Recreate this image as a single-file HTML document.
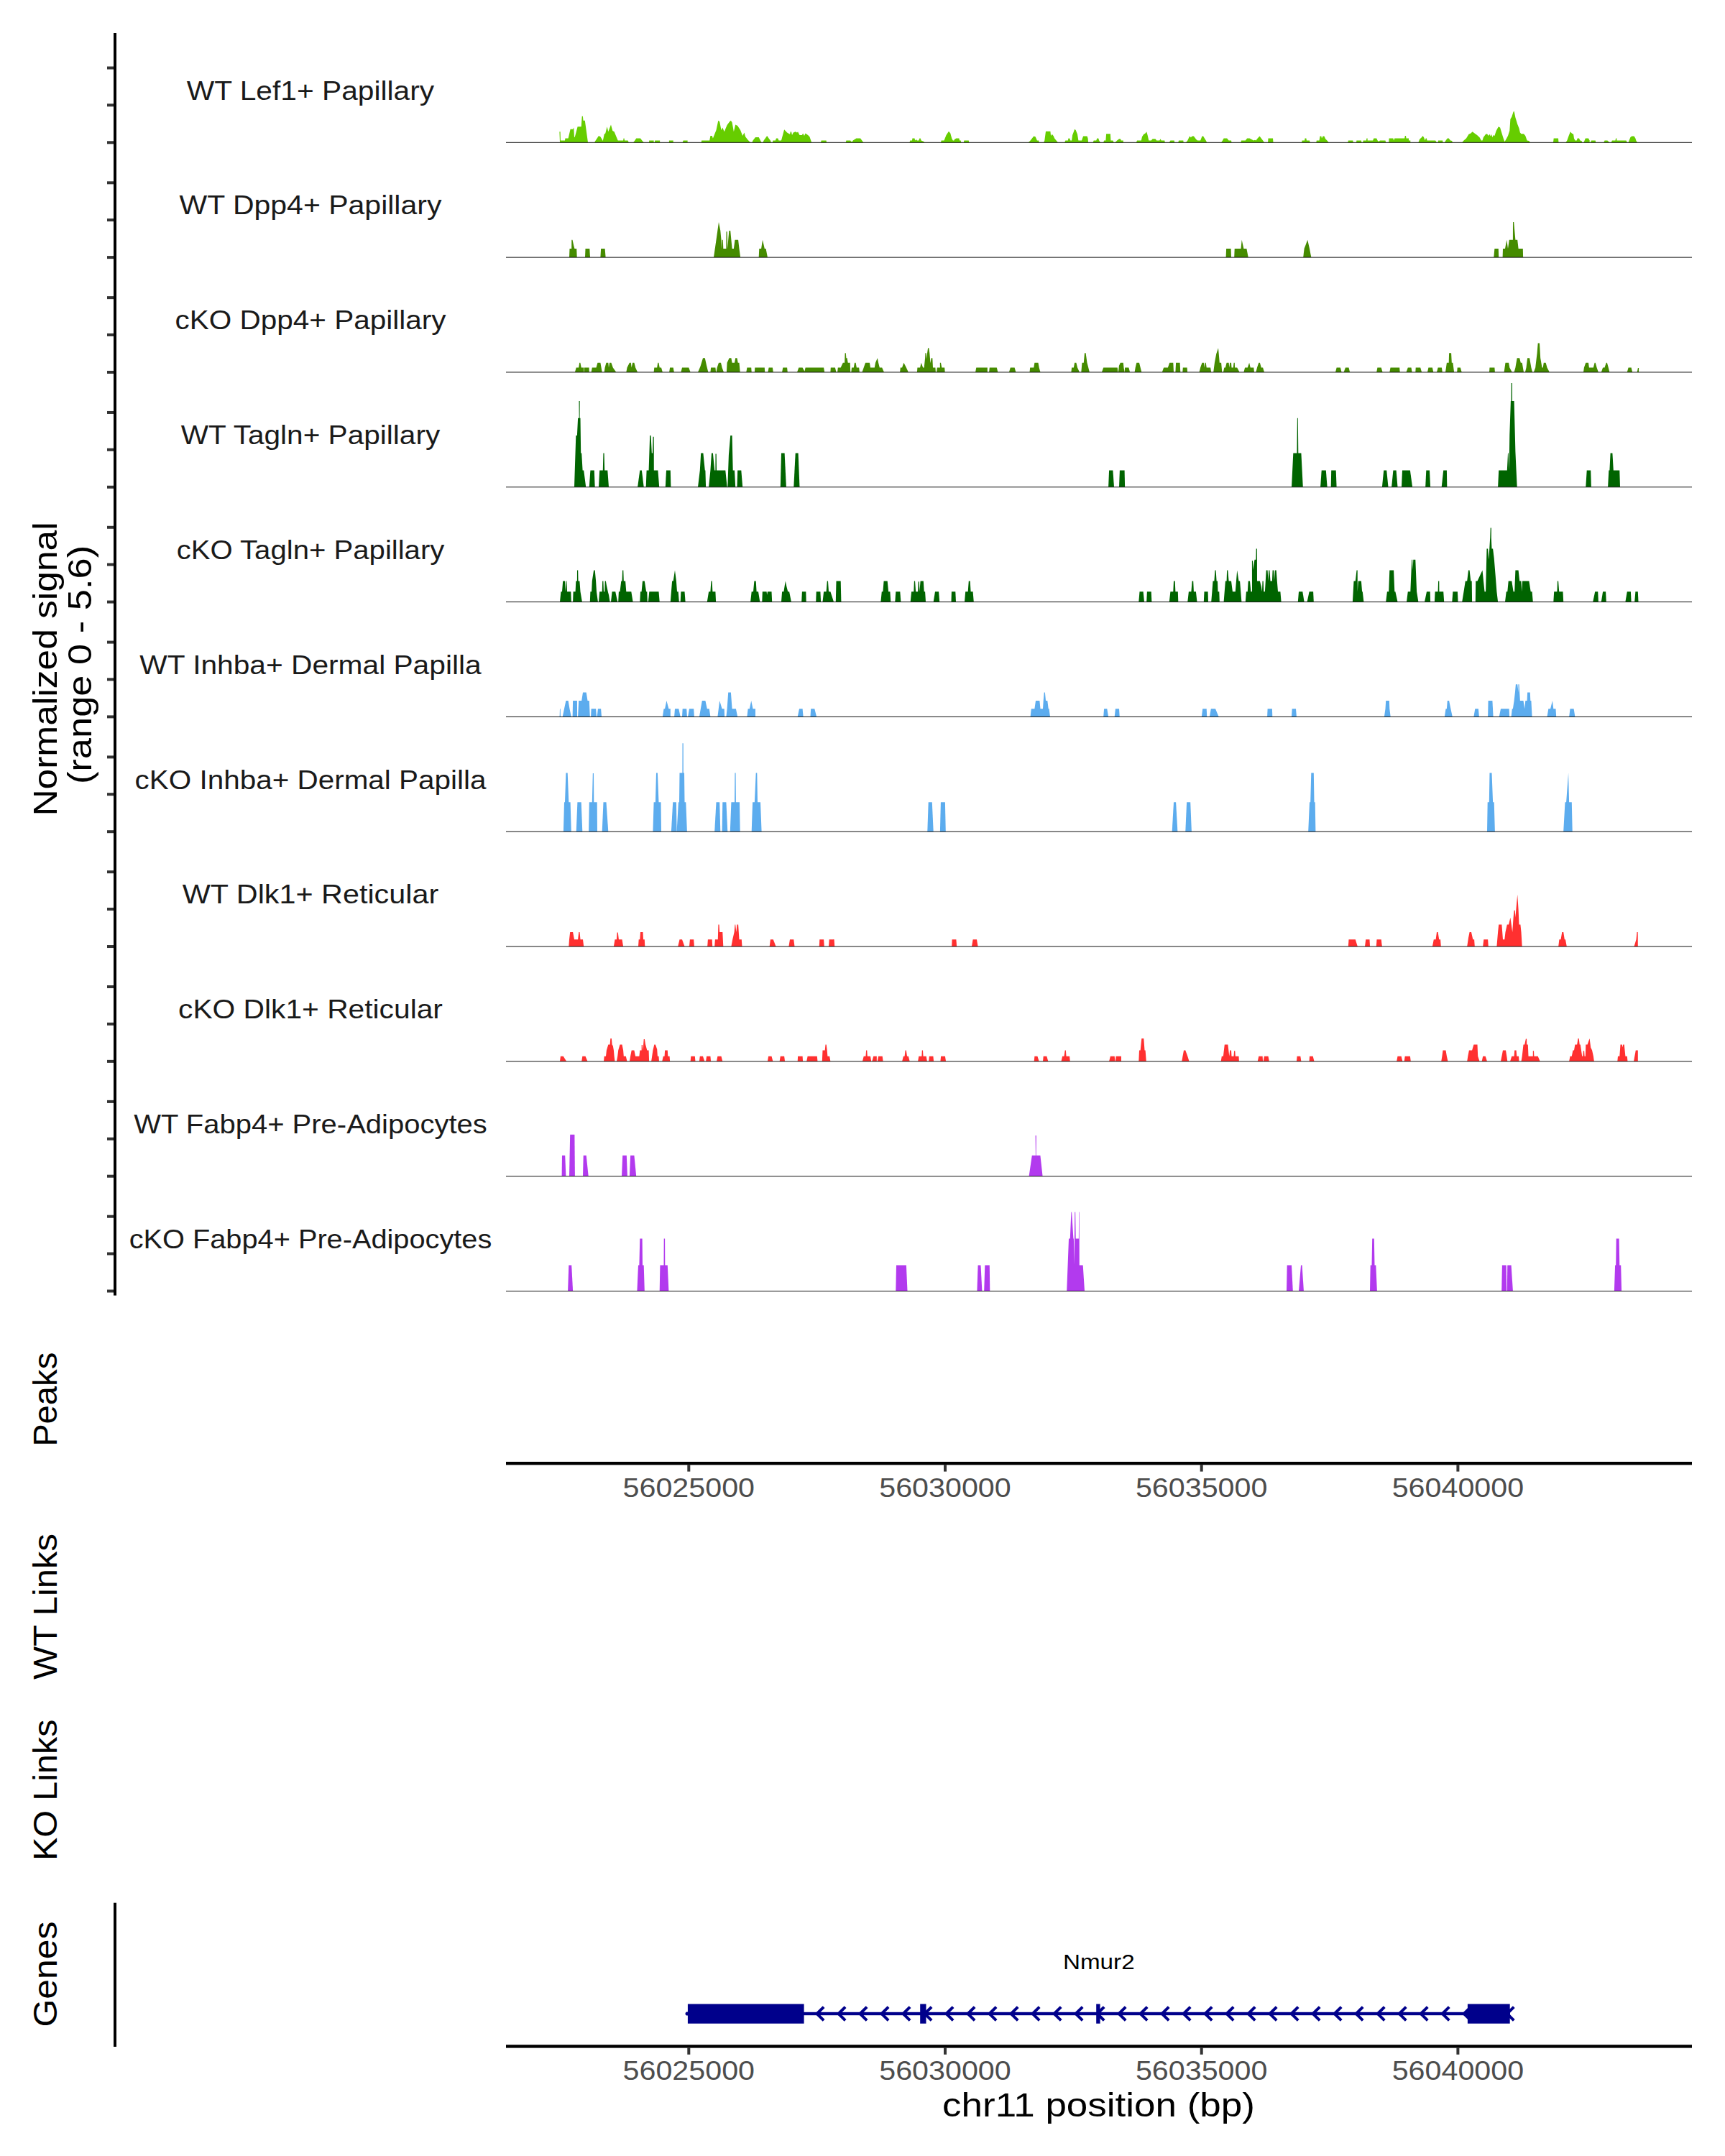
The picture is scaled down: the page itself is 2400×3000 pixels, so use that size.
<!DOCTYPE html><html><head><meta charset="utf-8"><style>html,body{margin:0;padding:0;background:#fff;}svg{display:block;}</style></head><body><svg width="2400" height="3000" viewBox="0 0 2400 3000">
<rect width="2400" height="3000" fill="#fff"/>
<polygon points="779.0,198.3 778.4,183.2 779.6,183.2 779.9,195.5 786.0,195.5 786.4,192.5 790.6,192.5 793.6,179.7 797.1,179.7 798.3,177.4 799.0,191.3 799.9,190.2 803.6,176.3 808.7,176.3 809.7,161.7 810.9,161.7 811.5,167.7 813.8,167.7 818.0,198.3" fill="#66CD00"/>
<polygon points="827.2,198.3 827.7,197.1 833.0,189.0 835.4,190.2 838.8,196.0 840.7,186.7 842.3,185.5 844.6,176.3 846.3,183.2 850.0,173.5 852.3,182.1 854.6,183.2 859.7,195.5 867.1,195.5 867.6,192.5 868.5,192.5 869.0,195.5 873.6,195.5 874.8,198.3" fill="#66CD00"/>
<polygon points="881.0,198.3 882.9,196.0 885.2,192.5 891.0,192.5 893.3,195.5 895.7,198.3" fill="#66CD00"/>
<polygon points="903.1,198.3 903.1,195.5 909.6,195.5 909.6,198.3" fill="#66CD00"/>
<polygon points="910.7,198.3 911.2,195.5 918.1,195.5 918.1,198.3" fill="#66CD00"/>
<polygon points="930.9,198.3 930.9,195.5 936.7,195.5 936.7,198.3" fill="#66CD00"/>
<polygon points="949.7,198.3 950.6,195.5 956.6,195.5 956.6,198.3" fill="#66CD00"/>
<polygon points="975.7,198.3 976.1,195.5 987.2,195.5 988.4,189.0 990.7,189.0 991.9,192.5 996.5,180.9 999.3,167.7 1001.2,169.3 1003.5,180.9 1005.3,177.4 1007.7,183.2 1011.6,174.0 1015.1,169.3 1016.9,167.7 1018.6,170.5 1020.9,183.2 1023.2,173.5 1026.2,175.1 1030.1,180.9 1033.2,189.0 1035.5,184.4 1037.1,190.2 1040.6,194.8 1044.1,198.3" fill="#66CD00"/>
<polygon points="1046.4,198.3 1047.5,195.5 1051.0,190.9 1055.7,190.9 1058.0,195.5 1059.6,198.3" fill="#66CD00"/>
<polygon points="1061.4,198.3 1062.6,195.5 1067.2,189.0 1069.6,192.5 1071.9,195.5 1073.0,198.3" fill="#66CD00"/>
<polygon points="1074.9,198.3 1075.4,195.5 1078.8,195.5 1080.0,192.5 1082.3,192.5 1083.5,195.5 1087.0,195.5 1091.1,180.2 1095.1,184.4 1099.0,186.7 1099.8,183.2 1101.0,183.2 1102.0,187.9 1103.7,184.4 1106.7,183.2 1109.0,184.4 1110.1,183.2 1112.5,187.9 1115.9,187.9 1117.1,185.5 1119.0,189.0 1120.6,185.5 1124.1,187.9 1126.4,190.2 1129.2,198.3" fill="#66CD00"/>
<polygon points="1142.1,198.3 1142.6,195.5 1149.6,195.5 1150.0,198.3" fill="#66CD00"/>
<polygon points="1176.7,198.3 1177.4,195.5 1183.2,195.5 1184.3,197.1 1186.0,197.1 1186.7,195.5 1191.3,192.5 1197.1,192.5 1201.3,198.3" fill="#66CD00"/>
<polygon points="1265.5,198.3 1266.2,195.5 1269.0,195.5 1269.4,192.5 1272.5,192.5 1273.2,195.5 1274.8,194.1 1275.9,195.5 1278.3,195.5 1279.4,192.5 1280.6,192.5 1281.7,195.5 1285.2,197.1 1286.4,198.3" fill="#66CD00"/>
<polygon points="1309.1,198.3 1309.6,195.5 1313.5,195.5 1316.5,187.9 1320.0,182.8 1322.3,185.5 1324.2,192.5 1325.8,195.5 1327.4,195.5 1328.1,193.7 1330.4,192.5 1334.4,192.5 1335.1,195.5 1336.7,195.5 1337.4,198.3" fill="#66CD00"/>
<polygon points="1340.9,198.3 1341.3,195.5 1347.8,195.5 1348.3,198.3" fill="#66CD00"/>
<polygon points="1430.8,198.3 1433.6,195.5 1438.3,189.5 1440.6,190.2 1442.9,195.5 1445.2,195.5 1445.7,198.3" fill="#66CD00"/>
<polygon points="1452.2,198.3 1453.3,195.5 1455.0,182.8 1461.4,182.8 1462.1,189.0 1463.8,186.7 1465.6,189.0 1467.2,192.5 1469.6,195.5 1471.9,198.3" fill="#66CD00"/>
<polygon points="1481.2,198.3 1482.3,195.5 1485.8,195.5 1486.5,192.5 1488.1,192.5 1489.3,195.5 1491.1,195.5 1492.1,187.9 1493.9,183.2 1495.1,179.7 1496.7,180.9 1499.0,186.7 1500.4,195.5 1505.0,195.5 1506.0,192.5 1507.1,189.5 1512.5,189.5 1513.6,192.5 1514.1,198.3" fill="#66CD00"/>
<polygon points="1520.6,198.3 1521.7,195.5 1525.2,195.5 1526.4,192.5 1528.2,192.5 1529.2,195.5 1531.0,198.3" fill="#66CD00"/>
<polygon points="1535.2,198.3 1536.1,195.5 1538.4,195.5 1539.1,186.2 1544.9,186.2 1545.4,195.5 1548.4,195.5 1549.6,198.3" fill="#66CD00"/>
<polygon points="1551.4,198.3 1554.2,195.5 1557.0,193.2 1558.8,193.2 1560.0,195.5 1560.0,198.3" fill="#66CD00"/>
<polygon points="1560.0,198.3 1560.0,195.5 1562.8,195.5 1562.8,198.3" fill="#66CD00"/>
<polygon points="1580.9,198.3 1582.0,195.5 1587.8,195.5 1589.0,190.2 1591.3,186.7 1593.6,185.5 1595.2,183.2 1596.6,187.9 1598.3,195.5 1601.7,195.5 1603.6,193.2 1607.5,193.2 1609.2,195.5 1613.3,195.5 1614.5,193.2 1615.7,195.5 1620.3,195.5 1620.8,198.3" fill="#66CD00"/>
<polygon points="1626.8,198.3 1628.4,195.5 1633.7,195.5 1634.2,198.3" fill="#66CD00"/>
<polygon points="1639.3,198.3 1640.0,195.5 1646.3,195.5 1646.7,198.3" fill="#66CD00"/>
<polygon points="1650.0,198.3 1652.3,195.5 1655.1,189.5 1656.9,191.3 1658.6,189.5 1660.9,189.5 1664.3,194.1 1666.2,195.5 1670.1,195.5 1672.5,189.5 1674.1,189.5 1675.9,192.5 1677.8,195.5 1679.2,198.3" fill="#66CD00"/>
<polygon points="1699.1,198.3 1701.0,195.5 1702.6,192.5 1707.2,192.5 1709.6,195.5 1713.0,195.5 1713.5,198.3" fill="#66CD00"/>
<polygon points="1726.5,198.3 1727.0,195.5 1732.8,195.5 1735.1,192.5 1738.6,192.5 1744.3,195.5 1746.0,194.8 1747.4,195.5 1749.7,192.5 1752.5,189.5 1754.8,192.5 1757.1,195.5 1759.0,198.3" fill="#66CD00"/>
<polygon points="1764.1,198.3 1764.5,192.5 1771.0,192.5 1771.5,198.3" fill="#66CD00"/>
<polygon points="1811.1,198.3 1811.6,195.5 1815.1,195.5 1815.5,192.5 1817.4,192.5 1817.9,195.5 1822.0,195.5 1822.7,198.3" fill="#66CD00"/>
<polygon points="1831.3,198.3 1831.8,195.5 1835.5,195.5 1836.6,189.5 1838.3,189.5 1839.0,192.5 1840.6,189.5 1842.4,189.5 1844.1,193.2 1846.4,195.5 1848.7,198.3" fill="#66CD00"/>
<polygon points="1875.4,198.3 1875.8,195.5 1882.3,195.5 1882.8,198.3" fill="#66CD00"/>
<polygon points="1887.0,198.3 1887.4,195.5 1893.9,195.5 1894.4,198.3" fill="#66CD00"/>
<polygon points="1896.2,198.3 1896.7,195.5 1900.9,195.5 1901.4,192.5 1902.6,192.5 1902.7,195.5 1910.1,195.5 1911.3,192.5 1915.2,192.5 1916.6,195.5 1918.3,197.1 1919.9,195.5 1927.5,195.5 1928.2,198.3" fill="#66CD00"/>
<polygon points="1932.2,198.3 1932.6,192.5 1938.4,192.5 1939.1,195.5 1940.3,192.5 1954.2,192.5 1954.8,189.0 1956.0,189.0 1956.5,192.5 1960.0,192.5 1960.0,198.3" fill="#66CD00"/>
<polygon points="1960.0,198.3 1960.0,195.5 1962.3,195.5 1962.3,198.3" fill="#66CD00"/>
<polygon points="1973.4,198.3 1975.1,193.7 1978.1,190.9 1979.7,189.0 1981.3,191.8 1982.7,195.5 1983.7,192.5 1984.9,192.5 1985.5,195.5 1997.1,195.5 1999.0,198.3" fill="#66CD00"/>
<polygon points="2000.6,198.3 2001.0,195.5 2007.1,195.5 2007.5,198.3" fill="#66CD00"/>
<polygon points="2009.9,198.3 2011.5,195.5 2013.8,192.5 2015.7,192.5 2018.0,195.5 2020.3,196.0 2020.8,198.3" fill="#66CD00"/>
<polygon points="2034.2,198.3 2036.5,195.5 2040.0,192.5 2043.5,186.7 2046.3,185.5 2048.6,183.2 2051.6,185.5 2055.1,187.9 2058.6,191.3 2060.9,195.5 2062.5,195.5 2063.9,190.9 2067.1,186.7 2069.0,186.2 2070.8,189.0 2072.5,186.7 2073.6,189.5 2074.8,186.7 2076.4,190.9 2077.8,187.9 2079.4,189.0 2081.7,182.1 2084.8,176.3 2087.1,177.4 2089.9,186.7 2091.7,192.5 2093.3,197.1 2094.5,195.5 2098.0,189.0 2100.3,182.1 2101.4,165.8 2103.3,162.4 2105.6,155.4 2106.6,154.7 2108.4,163.5 2111.2,172.8 2113.5,178.6 2114.9,184.4 2116.5,186.2 2120.0,186.2 2122.3,189.0 2124.6,195.5 2127.4,196.0 2128.8,198.3" fill="#66CD00"/>
<polygon points="2161.0,198.3 2161.7,192.5 2168.0,192.5 2168.5,198.3" fill="#66CD00"/>
<polygon points="2178.4,198.3 2180.3,195.5 2182.6,189.0 2184.9,183.2 2186.8,185.5 2189.1,186.7 2190.0,192.5 2191.4,195.5 2193.7,195.5 2194.7,192.5 2197.0,192.5 2198.4,195.5 2200.5,196.0 2201.2,198.3" fill="#66CD00"/>
<polygon points="2203.5,198.3 2204.6,195.5 2205.8,192.5 2210.0,192.5 2211.6,195.5 2211.6,198.3" fill="#66CD00"/>
<polygon points="2213.2,198.3 2213.9,195.5 2219.7,195.5 2220.2,198.3" fill="#66CD00"/>
<polygon points="2231.3,198.3 2232.5,195.5 2236.4,195.5 2239.4,198.3" fill="#66CD00"/>
<polygon points="2241.7,198.3 2242.9,195.5 2247.5,195.5 2248.1,192.5 2249.3,192.5 2249.4,195.5 2262.6,195.5 2263.8,198.3" fill="#66CD00"/>
<polygon points="2265.6,198.3 2266.6,195.5 2268.4,190.9 2270.3,189.5 2273.5,189.5 2275.4,192.5 2276.5,196.0 2278.1,198.3" fill="#66CD00"/>
<rect x="704" y="197.80" width="1650" height="1.0" fill="#111"/>
<polygon points="792.0,358.1 792.5,346.1 795.2,346.1 795.3,333.8 796.5,333.8 798.3,341.9 799.4,346.1 802.2,346.1 802.7,358.1" fill="#458B00"/>
<polygon points="814.0,358.1 814.5,346.1 820.3,346.1 821.0,358.1" fill="#458B00"/>
<polygon points="835.4,358.1 836.1,346.1 841.6,346.1 842.6,358.1" fill="#458B00"/>
<polygon points="993.0,358.1 996.5,333.8 1000.0,309.0 1002.3,321.0 1003.5,333.8 1003.9,346.1 1004.6,333.8 1005.8,333.8 1006.3,346.1 1010.4,346.1 1010.5,322.2 1011.7,322.2 1012.3,346.1 1013.2,333.8 1014.4,321.0 1016.2,321.0 1017.4,333.8 1018.6,346.1 1020.9,346.1 1022.5,333.8 1027.1,333.8 1028.5,346.1 1030.1,358.1" fill="#458B00"/>
<polygon points="1055.7,358.1 1056.3,346.1 1059.1,346.1 1061.0,333.8 1063.8,346.1 1065.6,346.1 1067.9,358.1" fill="#458B00"/>
<polygon points="1705.6,358.1 1706.1,346.1 1712.6,346.1 1713.0,358.1" fill="#458B00"/>
<polygon points="1717.2,358.1 1717.7,346.1 1726.5,346.1 1727.7,333.8 1730.4,346.1 1734.4,346.1 1736.7,358.1" fill="#458B00"/>
<polygon points="1813.2,358.1 1814.6,346.1 1819.2,333.8 1822.0,346.1 1824.3,358.1" fill="#458B00"/>
<polygon points="2078.3,358.1 2079.4,346.1 2084.8,346.1 2085.2,358.1" fill="#458B00"/>
<polygon points="2090.6,358.1 2091.0,346.1 2094.0,346.1 2096.3,333.8 2098.0,346.1 2099.8,333.8 2104.9,333.8 2105.0,309.0 2106.2,309.0 2108.4,333.8 2111.2,333.8 2112.6,346.1 2118.8,346.1 2119.1,358.1" fill="#458B00"/>
<rect x="704" y="357.62" width="1650" height="1.0" fill="#111"/>
<polygon points="799.9,517.9 801.7,511.4 805.2,511.4 806.2,504.7 807.4,504.7 808.7,511.4 812.2,511.4 812.2,517.9" fill="#458B00"/>
<polygon points="812.6,517.9 812.9,511.4 819.6,511.4 819.8,517.9" fill="#458B00"/>
<polygon points="822.6,517.9 823.8,511.4 829.6,511.4 831.4,504.7 835.4,504.7 837.7,517.9" fill="#458B00"/>
<polygon points="840.7,517.9 841.6,511.4 843.5,504.7 846.3,504.7 847.0,511.4 848.1,504.7 850.4,504.7 852.8,511.4 857.4,517.9" fill="#458B00"/>
<polygon points="871.3,517.9 872.5,511.4 875.9,504.7 877.8,504.7 878.7,511.4 880.1,504.7 882.4,504.7 884.1,511.4 887.1,517.9" fill="#458B00"/>
<polygon points="909.6,517.9 910.3,511.4 914.2,511.4 915.2,504.7 916.4,504.7 917.7,511.4 920.0,511.4 921.9,517.9" fill="#458B00"/>
<polygon points="931.1,517.9 932.1,511.4 936.7,511.4 937.9,517.9" fill="#458B00"/>
<polygon points="947.4,517.9 949.0,511.4 958.3,511.4 960.6,517.9" fill="#458B00"/>
<polygon points="971.0,517.9 974.5,509.8 978.0,498.2 980.8,498.2 983.1,508.7 985.4,517.9" fill="#458B00"/>
<polygon points="988.4,517.9 989.1,511.4 995.4,511.4 996.1,517.9" fill="#458B00"/>
<polygon points="996.5,517.9 997.7,511.4 1000.0,504.7 1003.0,504.7 1004.6,511.4 1007.0,517.9" fill="#458B00"/>
<polygon points="1010.9,517.9 1011.6,504.7 1014.6,498.2 1017.4,498.2 1018.6,504.7 1022.0,504.7 1023.2,498.2 1025.5,498.2 1026.7,504.7 1028.5,504.7 1029.7,517.9" fill="#458B00"/>
<polygon points="1038.3,517.9 1039.4,511.4 1045.2,511.4 1045.7,517.9" fill="#458B00"/>
<polygon points="1049.9,517.9 1050.3,511.4 1063.8,511.4 1064.2,517.9" fill="#458B00"/>
<polygon points="1068.4,517.9 1069.6,511.4 1074.9,511.4 1075.8,517.9" fill="#458B00"/>
<polygon points="1088.1,517.9 1089.3,511.4 1095.1,511.4 1095.8,517.9" fill="#458B00"/>
<polygon points="1109.0,517.9 1111.3,511.4 1116.6,511.4 1119.4,516.8 1120.6,511.4 1146.1,511.4 1147.2,517.9" fill="#458B00"/>
<polygon points="1155.4,517.9 1155.8,511.4 1160.0,511.4 1160.0,517.9" fill="#458B00"/>
<polygon points="1160.0,517.9 1160.0,511.4 1161.9,511.4 1163.5,517.9" fill="#458B00"/>
<polygon points="1165.1,517.9 1165.8,511.4 1169.7,511.4 1172.8,504.7 1175.1,504.7 1175.6,491.3 1176.8,491.3 1177.4,498.2 1178.6,498.2 1179.7,504.7 1182.7,504.7 1183.2,517.9" fill="#458B00"/>
<polygon points="1184.3,517.9 1185.0,511.4 1187.8,511.4 1189.0,504.7 1190.6,504.7 1191.8,511.4 1195.2,511.4 1195.9,517.9" fill="#458B00"/>
<polygon points="1199.4,517.9 1201.7,511.4 1204.1,504.7 1209.9,504.7 1211.0,511.4 1216.8,511.4 1218.0,504.7 1220.8,498.2 1222.1,504.7 1223.8,511.4 1227.2,511.4 1230.0,517.9" fill="#458B00"/>
<polygon points="1252.1,517.9 1252.8,511.4 1255.1,511.4 1257.4,504.7 1260.9,511.4 1263.9,517.9" fill="#458B00"/>
<polygon points="1275.9,517.9 1276.4,511.4 1280.1,511.4 1281.7,504.7 1284.1,511.4 1285.7,511.4 1287.1,498.2 1287.4,491.3 1288.6,491.3 1288.9,499.4 1289.9,492.4 1291.1,484.3 1292.3,484.3 1293.3,491.3 1294.5,505.2 1295.7,498.2 1297.3,498.2 1298.0,511.4 1301.4,511.4 1301.9,517.9" fill="#458B00"/>
<polygon points="1303.1,517.9 1303.8,511.4 1307.9,511.4 1307.8,504.7 1309.0,504.7 1310.3,511.4 1314.2,511.4 1314.7,517.9" fill="#458B00"/>
<polygon points="1357.1,517.9 1358.3,511.4 1373.8,511.4 1373.8,517.9" fill="#458B00"/>
<polygon points="1376.1,517.9 1376.8,511.4 1386.8,511.4 1388.4,517.9" fill="#458B00"/>
<polygon points="1403.9,517.9 1405.8,511.4 1411.6,511.4 1413.4,517.9" fill="#458B00"/>
<polygon points="1432.5,517.9 1433.2,511.4 1438.3,511.4 1439.4,504.7 1444.5,504.7 1445.7,511.4 1447.5,517.9" fill="#458B00"/>
<polygon points="1490.4,517.9 1491.1,511.4 1493.9,511.4 1495.1,504.7 1497.4,504.7 1499.0,511.4 1502.0,517.9" fill="#458B00"/>
<polygon points="1504.3,517.9 1505.5,504.7 1507.8,504.7 1509.0,491.3 1510.6,491.3 1512.5,504.7 1515.9,517.9" fill="#458B00"/>
<polygon points="1532.9,517.9 1535.2,511.4 1554.7,511.4 1555.4,517.9" fill="#458B00"/>
<polygon points="1555.8,517.9 1557.0,508.7 1558.8,504.7 1560.0,504.7 1560.0,517.9" fill="#458B00"/>
<polygon points="1560.0,517.9 1560.0,504.7 1562.8,504.7 1563.5,511.4 1564.6,517.9" fill="#458B00"/>
<polygon points="1564.6,517.9 1565.1,511.4 1570.4,511.4 1572.1,517.9" fill="#458B00"/>
<polygon points="1578.6,517.9 1579.7,511.4 1581.3,504.7 1585.0,504.7 1586.7,511.4 1588.3,517.9" fill="#458B00"/>
<polygon points="1616.8,517.9 1619.1,511.4 1624.9,511.4 1627.2,504.7 1632.3,504.7 1633.0,517.9" fill="#458B00"/>
<polygon points="1635.4,517.9 1636.1,504.7 1641.6,504.7 1642.3,517.9" fill="#458B00"/>
<polygon points="1645.3,517.9 1645.8,511.4 1651.6,511.4 1652.1,517.9" fill="#458B00"/>
<polygon points="1668.5,517.9 1670.1,511.4 1672.5,504.7 1674.8,504.7 1675.9,511.4 1676.5,504.7 1677.7,504.7 1678.7,511.4 1684.1,511.4 1685.2,517.9" fill="#458B00"/>
<polygon points="1688.2,517.9 1689.9,504.7 1692.2,492.4 1695.0,484.3 1696.8,504.7 1699.1,504.7 1700.3,517.9" fill="#458B00"/>
<polygon points="1701.9,517.9 1703.3,511.4 1704.9,511.4 1706.6,504.7 1709.6,504.7 1710.3,511.4 1711.2,504.7 1713.0,504.7 1713.5,511.4 1715.8,511.4 1716.6,504.7 1717.8,504.7 1718.1,511.4 1721.2,511.4 1724.6,517.9" fill="#458B00"/>
<polygon points="1730.4,517.9 1732.1,511.4 1735.8,511.4 1738.1,504.7 1739.7,511.4 1744.3,511.4 1745.0,517.9" fill="#458B00"/>
<polygon points="1747.4,517.9 1749.0,511.4 1751.3,504.7 1752.9,504.7 1754.8,511.4 1757.1,511.4 1759.0,517.9" fill="#458B00"/>
<polygon points="1858.0,517.9 1859.6,511.4 1864.9,511.4 1866.6,517.9" fill="#458B00"/>
<polygon points="1869.6,517.9 1871.9,511.4 1876.5,511.4 1878.1,517.9" fill="#458B00"/>
<polygon points="1915.2,517.9 1916.4,511.4 1921.7,511.4 1923.6,517.9" fill="#458B00"/>
<polygon points="1933.3,517.9 1934.5,511.4 1947.2,511.4 1947.7,517.9" fill="#458B00"/>
<polygon points="1956.5,517.9 1958.8,511.4 1960.0,511.4 1960.0,517.9" fill="#458B00"/>
<polygon points="1960.0,517.9 1960.0,511.4 1963.5,511.4 1964.6,517.9" fill="#458B00"/>
<polygon points="1969.3,517.9 1969.7,511.4 1976.2,511.4 1978.1,517.9" fill="#458B00"/>
<polygon points="1986.0,517.9 1987.4,511.4 1992.9,511.4 1994.3,517.9" fill="#458B00"/>
<polygon points="1999.0,517.9 2000.6,511.4 2005.9,511.4 2006.8,517.9" fill="#458B00"/>
<polygon points="2011.0,517.9 2012.9,504.7 2015.7,504.7 2016.1,491.3 2019.1,491.3 2019.8,504.7 2021.4,504.7 2023.1,517.9" fill="#458B00"/>
<polygon points="2027.2,517.9 2027.7,511.4 2031.9,511.4 2033.7,517.9" fill="#458B00"/>
<polygon points="2072.0,517.9 2072.5,511.4 2079.4,511.4 2079.9,517.9" fill="#458B00"/>
<polygon points="2092.6,517.9 2094.5,504.7 2099.1,504.7 2100.3,511.4 2103.8,517.9" fill="#458B00"/>
<polygon points="2106.6,517.9 2108.4,511.4 2110.7,498.2 2114.2,498.2 2115.8,504.7 2117.7,504.7 2120.0,517.9" fill="#458B00"/>
<polygon points="2121.9,517.9 2123.5,511.4 2125.1,498.2 2128.1,498.2 2130.4,511.4 2132.1,517.9" fill="#458B00"/>
<polygon points="2133.9,517.9 2136.2,511.4 2138.6,491.3 2139.7,477.4 2142.0,477.4 2143.2,498.2 2145.5,511.4 2146.7,511.4 2147.8,504.7 2150.6,504.7 2152.5,511.4 2155.9,517.9" fill="#458B00"/>
<polygon points="2203.0,517.9 2203.9,511.4 2206.3,504.7 2210.0,504.7 2210.9,511.4 2216.9,511.4 2218.6,504.7 2219.7,504.7 2221.6,511.4 2223.9,517.9" fill="#458B00"/>
<polygon points="2227.8,517.9 2230.1,511.4 2232.5,511.4 2234.8,504.7 2235.9,504.7 2237.8,511.4 2239.4,517.9" fill="#458B00"/>
<polygon points="2263.8,517.9 2265.6,511.4 2269.6,511.4 2271.2,517.9" fill="#458B00"/>
<polygon points="2277.7,517.9 2278.9,512.1 2280.1,512.1 2280.0,517.9" fill="#458B00"/>
<rect x="704" y="517.44" width="1650" height="1.0" fill="#111"/>
<polygon points="799.0,677.8 801.3,606.1 802.9,606.1 804.1,581.8 805.7,581.8 805.5,557.9 806.7,557.9 806.6,581.8 807.5,581.8 808.2,630.5 809.2,630.5 810.6,654.6 812.2,654.6 815.2,677.8" fill="#006400"/>
<polygon points="819.8,677.8 821.4,654.6 826.8,654.6 827.7,677.8" fill="#006400"/>
<polygon points="833.0,677.8 834.2,654.6 838.8,654.6 839.4,630.5 840.6,630.5 841.2,654.6 845.3,654.6 847.0,677.8" fill="#006400"/>
<polygon points="887.1,677.8 890.3,654.6 892.9,654.6 895.7,677.8" fill="#006400"/>
<polygon points="898.7,677.8 899.6,654.6 902.6,654.6 904.2,606.1 905.6,606.1 906.8,630.5 907.9,630.5 908.5,607.7 909.7,607.7 909.8,654.6 915.4,654.6 917.2,677.8" fill="#006400"/>
<polygon points="925.8,677.8 927.0,654.6 932.8,654.6 933.4,677.8" fill="#006400"/>
<polygon points="971.0,677.8 973.8,654.6 975.2,630.5 978.4,630.5 980.8,654.6 981.4,654.6 982.1,677.8" fill="#006400"/>
<polygon points="986.1,677.8 988.4,654.6 990.0,630.5 991.9,630.5 994.2,654.6 995.4,654.6 995.5,631.4 996.7,631.4 997.0,654.6 1009.3,654.6 1011.6,677.8" fill="#006400"/>
<polygon points="1012.3,677.8 1013.9,633.2 1016.2,606.1 1018.6,606.1 1019.7,654.6 1022.0,654.6 1023.2,677.8" fill="#006400"/>
<polygon points="1025.5,677.8 1026.2,654.6 1031.3,654.6 1033.2,677.8" fill="#006400"/>
<polygon points="1085.8,677.8 1087.0,630.5 1091.6,630.5 1093.9,677.8" fill="#006400"/>
<polygon points="1104.3,677.8 1106.7,630.5 1110.6,630.5 1112.5,677.8" fill="#006400"/>
<polygon points="1542.1,677.8 1543.1,654.6 1548.4,654.6 1550.0,677.8" fill="#006400"/>
<polygon points="1557.0,677.8 1557.9,654.6 1560.0,654.6 1560.0,677.8" fill="#006400"/>
<polygon points="1560.0,677.8 1560.0,654.6 1564.6,654.6 1565.1,677.8" fill="#006400"/>
<polygon points="1797.0,677.8 1799.3,630.5 1804.4,630.5 1804.9,581.8 1805.8,581.8 1806.3,630.5 1810.4,630.5 1812.8,677.8" fill="#006400"/>
<polygon points="1837.1,677.8 1838.7,654.6 1844.8,654.6 1846.6,677.8" fill="#006400"/>
<polygon points="1851.7,677.8 1852.2,654.6 1858.7,654.6 1859.6,677.8" fill="#006400"/>
<polygon points="1922.9,677.8 1925.2,654.6 1929.2,654.6 1931.5,677.8" fill="#006400"/>
<polygon points="1936.1,677.8 1938.4,654.6 1942.6,654.6 1944.5,677.8" fill="#006400"/>
<polygon points="1950.0,677.8 1951.0,654.6 1960.0,654.6 1960.0,677.8" fill="#006400"/>
<polygon points="1960.0,677.8 1960.0,654.6 1961.9,654.6 1965.1,677.8" fill="#006400"/>
<polygon points="1983.2,677.8 1984.3,654.6 1989.0,654.6 1990.1,677.8" fill="#006400"/>
<polygon points="2005.7,677.8 2008.2,654.6 2012.9,654.6 2013.3,677.8" fill="#006400"/>
<polygon points="2084.1,677.8 2085.2,654.6 2096.8,654.6 2098.0,630.5 2098.7,630.5 2099.6,654.6 2100.3,605.4 2101.9,557.9 2102.6,557.9 2102.7,533.1 2103.9,533.1 2104.0,557.9 2106.6,557.9 2108.4,628.6 2109.6,654.6 2110.7,677.8" fill="#006400"/>
<polygon points="2206.3,677.8 2207.7,654.6 2213.2,654.6 2213.9,677.8" fill="#006400"/>
<polygon points="2237.1,677.8 2238.3,654.6 2239.4,654.6 2240.6,630.5 2243.4,630.5 2244.8,654.6 2253.3,654.6 2254.0,677.8" fill="#006400"/>
<rect x="704" y="677.26" width="1650" height="1.0" fill="#111"/>
<polygon points="779.0,837.6 780.4,823.2 782.0,823.2 783.2,808.6 786.0,808.6 786.7,823.2 787.4,808.6 788.3,808.6 789.0,823.2 794.3,823.2 794.8,837.6" fill="#006400"/>
<polygon points="797.1,837.6 797.6,823.2 800.6,823.2 801.3,808.6 802.9,808.6 803.0,793.5 804.2,793.5 804.5,808.6 806.4,808.6 807.5,823.2 809.9,837.6" fill="#006400"/>
<polygon points="820.8,837.6 821.4,823.2 823.1,823.2 823.8,808.6 826.1,793.5 827.7,793.5 829.1,808.6 830.0,823.2 831.9,837.6" fill="#006400"/>
<polygon points="833.0,837.6 834.2,823.2 837.7,823.2 838.2,808.6 839.4,808.6 840.0,823.2 841.2,823.2 841.7,808.6 842.9,808.6 843.9,814.4 845.8,823.2 847.0,827.8 848.6,837.6" fill="#006400"/>
<polygon points="850.0,837.6 851.6,823.2 856.2,823.2 859.2,837.6" fill="#006400"/>
<polygon points="860.2,837.6 860.9,823.2 862.5,823.2 864.3,808.6 865.5,808.6 866.1,793.5 867.3,793.5 867.8,808.6 870.1,808.6 871.3,823.2 878.3,823.2 880.6,837.6" fill="#006400"/>
<polygon points="890.3,837.6 891.0,823.2 892.6,823.2 894.0,808.6 896.8,808.6 899.1,823.2 900.3,823.2 900.8,837.6" fill="#006400"/>
<polygon points="901.9,837.6 903.3,823.2 916.5,823.2 917.7,837.6" fill="#006400"/>
<polygon points="932.8,837.6 935.1,808.6 936.7,808.6 939.0,793.5 940.9,808.6 942.0,823.2 943.7,823.2 944.8,837.6" fill="#006400"/>
<polygon points="946.7,837.6 947.4,823.2 952.5,823.2 953.6,837.6" fill="#006400"/>
<polygon points="983.8,837.6 986.1,823.2 988.4,823.2 989.4,808.6 990.6,808.6 991.4,823.2 995.4,823.2 996.1,837.6" fill="#006400"/>
<polygon points="1044.1,837.6 1045.7,823.2 1048.0,823.2 1049.4,808.6 1051.7,808.6 1052.6,823.2 1055.0,823.2 1057.3,837.6" fill="#006400"/>
<polygon points="1060.3,837.6 1060.8,823.2 1066.6,823.2 1067.2,827.8 1067.9,823.2 1073.5,823.2 1074.2,837.6" fill="#006400"/>
<polygon points="1087.0,837.6 1088.1,823.2 1090.4,823.2 1092.8,808.6 1094.4,816.2 1096.2,823.2 1098.1,823.2 1100.9,837.6" fill="#006400"/>
<polygon points="1115.2,837.6 1115.9,823.2 1121.3,823.2 1121.7,837.6" fill="#006400"/>
<polygon points="1135.2,837.6 1135.7,823.2 1141.4,823.2 1142.1,837.6" fill="#006400"/>
<polygon points="1144.5,837.6 1146.1,823.2 1149.6,823.2 1150.8,808.6 1152.0,808.6 1153.0,823.2 1155.4,823.2 1158.4,832.5 1160.0,837.6" fill="#006400"/>
<polygon points="1162.8,837.6 1163.5,808.6 1169.7,808.6 1170.4,837.6" fill="#006400"/>
<polygon points="1225.4,837.6 1226.8,823.2 1228.4,823.2 1229.6,808.6 1234.7,808.6 1236.1,823.2 1238.4,823.2 1239.3,837.6" fill="#006400"/>
<polygon points="1245.3,837.6 1246.3,823.2 1252.3,823.2 1253.4,837.6" fill="#006400"/>
<polygon points="1266.7,837.6 1268.1,823.2 1271.3,823.2 1271.9,808.6 1273.1,808.6 1274.1,823.2 1277.1,823.2 1277.7,809.3 1278.9,809.3 1279.4,823.2 1280.6,808.6 1284.8,808.6 1285.7,823.2 1287.1,823.2 1288.0,837.6" fill="#006400"/>
<polygon points="1298.7,837.6 1301.0,823.2 1306.1,823.2 1307.2,837.6" fill="#006400"/>
<polygon points="1323.5,837.6 1323.9,823.2 1329.3,823.2 1330.0,837.6" fill="#006400"/>
<polygon points="1342.0,837.6 1343.2,823.2 1346.7,823.2 1347.8,808.6 1349.7,808.6 1350.6,823.2 1353.6,823.2 1354.8,837.6" fill="#006400"/>
<polygon points="1584.3,837.6 1585.5,823.2 1590.6,823.2 1592.0,837.6" fill="#006400"/>
<polygon points="1595.2,837.6 1595.9,823.2 1601.7,823.2 1602.4,837.6" fill="#006400"/>
<polygon points="1626.8,837.6 1628.4,823.2 1632.3,823.2 1633.0,808.6 1634.7,808.6 1635.4,823.2 1638.8,823.2 1639.3,837.6" fill="#006400"/>
<polygon points="1652.3,837.6 1653.9,823.2 1657.4,823.2 1658.6,808.6 1660.2,808.6 1660.9,823.2 1663.9,823.2 1665.5,837.6" fill="#006400"/>
<polygon points="1674.8,837.6 1675.5,823.2 1680.6,823.2 1681.0,837.6" fill="#006400"/>
<polygon points="1685.2,837.6 1686.4,823.2 1687.5,808.6 1689.4,808.6 1690.4,793.5 1691.6,793.5 1692.6,808.6 1694.0,808.6 1694.5,823.2 1696.3,823.2 1696.8,837.6" fill="#006400"/>
<polygon points="1702.6,837.6 1704.9,808.6 1706.6,808.6 1707.1,793.5 1708.3,793.5 1709.6,808.6 1713.0,808.6 1714.9,823.2 1718.8,823.2 1721.2,793.5 1723.5,808.6 1725.1,808.6 1727.4,837.6" fill="#006400"/>
<polygon points="1732.8,837.6 1733.9,823.2 1735.8,823.2 1736.7,808.6 1739.0,808.6 1740.4,823.2 1742.0,823.2 1741.9,780.3 1743.1,780.3 1743.2,793.1 1745.5,778.7 1747.4,778.7 1747.7,763.6 1748.9,763.6 1749.0,808.6 1752.9,808.6 1754.8,816.2 1755.9,823.2 1756.5,808.6 1757.7,808.6 1758.3,823.2 1759.9,823.2 1761.7,793.5 1763.6,793.5 1764.5,808.6 1765.2,793.5 1766.4,793.5 1767.5,808.6 1769.9,808.6 1770.6,793.5 1772.2,793.5 1772.9,808.6 1773.8,793.5 1775.7,793.5 1776.8,808.6 1778.0,823.2 1781.4,823.2 1782.6,837.6" fill="#006400"/>
<polygon points="1805.8,837.6 1807.0,823.2 1812.3,823.2 1814.6,837.6" fill="#006400"/>
<polygon points="1818.6,837.6 1821.6,823.2 1827.1,823.2 1827.8,837.6" fill="#006400"/>
<polygon points="1881.9,837.6 1883.5,808.6 1885.8,808.6 1887.5,793.5 1888.7,793.5 1888.8,823.2 1889.7,808.6 1893.9,808.6 1895.1,823.2 1895.8,823.2 1897.4,837.6" fill="#006400"/>
<polygon points="1928.2,837.6 1929.9,823.2 1932.2,823.2 1933.3,793.5 1939.1,793.5 1940.3,823.2 1941.4,823.2 1944.5,837.6" fill="#006400"/>
<polygon points="1957.0,837.6 1958.8,823.2 1960.0,823.2 1960.0,837.6" fill="#006400"/>
<polygon points="1960.0,837.6 1960.0,823.2 1962.3,823.2 1964.2,778.7 1965.1,778.7 1965.6,793.1 1966.3,778.7 1969.3,778.7 1971.1,823.2 1973.4,837.6" fill="#006400"/>
<polygon points="1982.0,837.6 1985.0,823.2 1989.7,823.2 1990.1,837.6" fill="#006400"/>
<polygon points="1995.9,837.6 1996.6,823.2 2000.6,823.2 2001.1,808.6 2002.3,808.6 2002.4,823.2 2008.2,823.2 2009.2,837.6" fill="#006400"/>
<polygon points="2020.3,837.6 2021.4,823.2 2027.9,823.2 2028.6,837.6" fill="#006400"/>
<polygon points="2034.2,837.6 2036.5,823.2 2038.8,808.6 2041.2,808.6 2043.0,793.5 2044.6,793.5 2046.3,808.6 2047.7,808.6 2048.1,837.6" fill="#006400"/>
<polygon points="2052.8,837.6 2053.2,808.6 2055.5,808.6 2062.5,793.5 2065.5,823.2 2067.1,823.2 2068.5,763.6 2070.1,763.6 2071.3,778.7 2073.2,748.5 2073.7,734.6 2074.9,734.6 2074.8,748.5 2075.5,763.6 2077.1,763.6 2078.7,776.8 2080.6,800.0 2082.4,823.2 2084.1,837.6" fill="#006400"/>
<polygon points="2094.0,837.6 2095.7,823.2 2097.3,823.2 2098.7,808.6 2103.3,808.6 2105.6,823.2 2107.2,823.2 2108.4,793.5 2112.6,793.5 2114.2,808.6 2116.5,808.6 2117.2,823.2 2118.1,808.6 2127.4,808.6 2129.7,823.2 2131.6,823.2 2132.8,837.6" fill="#006400"/>
<polygon points="2161.3,837.6 2162.2,823.2 2166.4,823.2 2166.9,808.6 2168.1,808.6 2169.2,823.2 2174.5,823.2 2175.2,837.6" fill="#006400"/>
<polygon points="2216.2,837.6 2219.2,823.2 2223.2,823.2 2223.9,837.6" fill="#006400"/>
<polygon points="2227.8,837.6 2230.1,823.2 2234.1,823.2 2234.8,837.6" fill="#006400"/>
<polygon points="2261.4,837.6 2263.8,823.2 2268.9,823.2 2269.6,837.6" fill="#006400"/>
<polygon points="2274.2,837.6 2275.4,823.2 2278.8,823.2 2279.5,837.6" fill="#006400"/>
<rect x="704" y="837.08" width="1650" height="1.0" fill="#111"/>
<polygon points="778.6,997.4 779.0,986.3 779.7,986.3 779.9,997.4" fill="#5CACEE"/>
<polygon points="782.7,997.4 785.0,986.3 787.4,975.1 790.6,975.1 792.5,986.3 794.8,997.4" fill="#5CACEE"/>
<polygon points="796.6,997.4 797.1,975.1 802.9,975.1 803.1,997.4" fill="#5CACEE"/>
<polygon points="804.1,997.4 805.2,975.1 809.2,975.1 811.0,963.5 815.7,963.5 817.5,975.1 819.8,975.1 820.8,997.4" fill="#5CACEE"/>
<polygon points="822.1,997.4 822.6,986.3 829.1,986.3 830.0,997.4" fill="#5CACEE"/>
<polygon points="830.7,997.4 831.9,986.3 836.1,986.3 837.0,997.4" fill="#5CACEE"/>
<polygon points="921.9,997.4 923.5,986.3 925.1,986.3 927.4,975.1 930.4,986.3 932.8,986.3 932.8,997.4" fill="#5CACEE"/>
<polygon points="938.1,997.4 939.0,986.3 944.3,986.3 946.7,997.4" fill="#5CACEE"/>
<polygon points="949.0,997.4 949.7,986.3 955.2,986.3 955.9,997.4" fill="#5CACEE"/>
<polygon points="957.1,997.4 959.0,986.3 965.2,986.3 965.9,997.4" fill="#5CACEE"/>
<polygon points="972.9,997.4 976.8,975.1 981.4,975.1 983.8,986.3 986.8,986.3 988.4,997.4" fill="#5CACEE"/>
<polygon points="998.4,997.4 1001.2,975.1 1004.6,986.3 1007.7,986.3 1008.1,997.4" fill="#5CACEE"/>
<polygon points="1010.4,997.4 1011.6,986.3 1013.2,963.5 1016.9,963.5 1018.6,986.3 1023.9,986.3 1026.2,997.4" fill="#5CACEE"/>
<polygon points="1039.4,997.4 1040.6,986.3 1042.9,986.3 1045.2,975.1 1047.5,986.3 1051.0,986.3 1051.0,997.4" fill="#5CACEE"/>
<polygon points="1109.7,997.4 1112.0,986.3 1116.6,986.3 1117.6,997.4" fill="#5CACEE"/>
<polygon points="1127.5,997.4 1128.2,986.3 1133.3,986.3 1136.1,997.4" fill="#5CACEE"/>
<polygon points="1433.6,997.4 1434.8,986.3 1439.4,986.3 1441.0,975.1 1446.4,975.1 1447.5,986.3 1451.0,986.3 1451.7,975.1 1452.7,963.5 1453.9,963.5 1455.0,975.1 1457.3,975.1 1458.7,986.3 1459.6,986.3 1461.0,997.4" fill="#5CACEE"/>
<polygon points="1535.2,997.4 1536.1,986.3 1540.3,986.3 1542.1,997.4" fill="#5CACEE"/>
<polygon points="1550.7,997.4 1551.9,986.3 1557.0,986.3 1557.7,997.4" fill="#5CACEE"/>
<polygon points="1671.8,997.4 1673.2,986.3 1678.7,986.3 1679.2,997.4" fill="#5CACEE"/>
<polygon points="1682.9,997.4 1684.8,986.3 1691.0,986.3 1695.7,997.4" fill="#5CACEE"/>
<polygon points="1763.1,997.4 1763.6,986.3 1769.9,986.3 1770.3,997.4" fill="#5CACEE"/>
<polygon points="1797.0,997.4 1797.7,986.3 1803.0,986.3 1803.9,997.4" fill="#5CACEE"/>
<polygon points="1925.9,997.4 1927.5,986.3 1928.2,975.1 1932.9,975.1 1933.3,986.3 1934.7,997.4" fill="#5CACEE"/>
<polygon points="2009.9,997.4 2011.5,986.3 2012.9,986.3 2013.8,975.1 2016.1,975.1 2018.4,986.3 2020.8,997.4" fill="#5CACEE"/>
<polygon points="2050.4,997.4 2052.3,986.3 2056.9,986.3 2057.9,997.4" fill="#5CACEE"/>
<polygon points="2070.1,997.4 2070.6,975.1 2076.4,975.1 2077.6,997.4" fill="#5CACEE"/>
<polygon points="2085.7,997.4 2088.0,986.3 2099.6,986.3 2100.1,997.4" fill="#5CACEE"/>
<polygon points="2102.6,997.4 2103.8,986.3 2104.9,986.3 2106.6,975.1 2107.9,963.5 2108.9,952.2 2111.2,952.2 2112.6,963.5 2112.4,952.2 2113.6,952.2 2114.2,963.5 2114.9,975.1 2119.5,975.1 2121.2,986.3 2122.3,975.1 2124.6,975.1 2125.1,963.5 2128.8,963.5 2129.3,975.1 2130.4,975.1 2131.6,997.4" fill="#5CACEE"/>
<polygon points="2152.5,997.4 2154.3,986.3 2157.1,986.3 2159.9,975.1 2161.3,986.3 2164.5,986.3 2165.2,997.4" fill="#5CACEE"/>
<polygon points="2183.1,997.4 2184.5,986.3 2189.6,986.3 2191.4,997.4" fill="#5CACEE"/>
<rect x="704" y="996.90" width="1650" height="1.0" fill="#111"/>
<polygon points="783.9,1157.2 785.0,1116.2 786.0,1116.2 787.4,1075.4 789.7,1075.4 791.3,1116.2 793.6,1116.2 794.8,1157.2" fill="#5CACEE"/>
<polygon points="801.7,1157.2 803.4,1116.2 808.7,1116.2 810.3,1157.2" fill="#5CACEE"/>
<polygon points="819.1,1157.2 819.8,1116.2 823.8,1116.2 824.8,1076.1 826.0,1076.1 826.3,1116.2 830.7,1116.2 831.0,1157.2" fill="#5CACEE"/>
<polygon points="837.7,1157.2 839.5,1116.2 843.5,1116.2 846.3,1157.2" fill="#5CACEE"/>
<polygon points="908.4,1157.2 909.6,1116.2 911.9,1116.2 913.0,1075.4 914.9,1075.4 916.5,1116.2 919.5,1116.2 920.0,1157.2" fill="#5CACEE"/>
<polygon points="933.9,1157.2 936.2,1116.2 940.9,1116.2 941.6,1157.2" fill="#5CACEE"/>
<polygon points="941.6,1157.2 943.9,1116.2 945.0,1116.2 945.5,1075.4 949.4,1075.4 949.5,1034.3 950.7,1034.3 950.8,1075.4 952.0,1075.4 952.5,1116.2 954.3,1116.2 955.9,1157.2" fill="#5CACEE"/>
<polygon points="994.2,1157.2 996.5,1116.2 1001.2,1116.2 1002.3,1157.2" fill="#5CACEE"/>
<polygon points="1004.6,1157.2 1005.3,1116.2 1010.4,1116.2 1012.3,1157.2" fill="#5CACEE"/>
<polygon points="1015.8,1157.2 1017.4,1116.2 1022.0,1116.2 1022.4,1075.4 1023.6,1075.4 1023.9,1116.2 1029.0,1116.2 1029.7,1157.2" fill="#5CACEE"/>
<polygon points="1045.7,1157.2 1047.1,1116.2 1049.9,1116.2 1051.7,1075.4 1053.3,1075.4 1054.0,1116.2 1058.0,1116.2 1059.6,1157.2" fill="#5CACEE"/>
<polygon points="1290.3,1157.2 1291.7,1116.2 1296.8,1116.2 1298.7,1157.2" fill="#5CACEE"/>
<polygon points="1307.9,1157.2 1308.9,1116.2 1314.9,1116.2 1315.8,1157.2" fill="#5CACEE"/>
<polygon points="1630.7,1157.2 1633.0,1116.2 1636.1,1116.2 1638.4,1157.2" fill="#5CACEE"/>
<polygon points="1649.3,1157.2 1651.1,1116.2 1656.2,1116.2 1657.9,1157.2" fill="#5CACEE"/>
<polygon points="1820.2,1157.2 1822.0,1116.2 1823.2,1116.2 1824.3,1075.4 1827.8,1075.4 1828.5,1116.2 1829.7,1116.2 1830.4,1157.2" fill="#5CACEE"/>
<polygon points="2069.0,1157.2 2069.7,1116.2 2071.8,1116.2 2072.5,1075.4 2075.5,1075.4 2077.1,1116.2 2078.7,1116.2 2079.9,1157.2" fill="#5CACEE"/>
<polygon points="2175.2,1157.2 2177.5,1116.2 2179.1,1116.2 2182.1,1075.4 2183.1,1116.2 2186.8,1116.2 2187.7,1157.2" fill="#5CACEE"/>
<rect x="704" y="1156.72" width="1650" height="1.0" fill="#111"/>
<polygon points="791.3,1317.0 792.0,1307.3 793.2,1296.9 797.1,1296.9 799.0,1307.3 804.1,1307.3 805.3,1296.9 806.5,1296.9 807.5,1307.3 811.0,1307.3 812.2,1317.0" fill="#FF3030"/>
<polygon points="853.9,1317.0 855.5,1307.3 857.9,1307.3 858.6,1297.6 859.8,1297.6 860.9,1307.3 865.5,1307.3 867.1,1317.0" fill="#FF3030"/>
<polygon points="888.0,1317.0 888.7,1307.3 890.3,1307.3 891.0,1296.9 894.5,1296.9 895.0,1307.3 896.8,1307.3 897.3,1317.0" fill="#FF3030"/>
<polygon points="943.2,1317.0 945.5,1307.3 949.0,1307.3 952.5,1317.0" fill="#FF3030"/>
<polygon points="959.0,1317.0 959.9,1307.3 965.2,1307.3 965.9,1317.0" fill="#FF3030"/>
<polygon points="984.2,1317.0 984.9,1307.3 990.7,1307.3 991.2,1317.0" fill="#FF3030"/>
<polygon points="994.2,1317.0 994.9,1307.3 998.8,1307.3 999.4,1286.4 1000.6,1286.4 1001.2,1296.9 1005.3,1296.9 1006.3,1317.0" fill="#FF3030"/>
<polygon points="1017.4,1317.0 1019.2,1307.3 1021.6,1296.9 1022.5,1286.4 1023.2,1286.4 1024.3,1296.9 1025.5,1286.4 1027.1,1286.4 1028.5,1307.3 1031.8,1307.3 1032.5,1317.0" fill="#FF3030"/>
<polygon points="1070.7,1317.0 1071.9,1307.3 1075.8,1307.3 1079.5,1317.0" fill="#FF3030"/>
<polygon points="1097.4,1317.0 1099.0,1307.3 1104.3,1307.3 1105.5,1317.0" fill="#FF3030"/>
<polygon points="1139.8,1317.0 1140.3,1307.3 1146.1,1307.3 1146.8,1317.0" fill="#FF3030"/>
<polygon points="1153.0,1317.0 1153.7,1307.3 1160.0,1307.3 1160.0,1317.0" fill="#FF3030"/>
<polygon points="1160.0,1317.0 1159.4,1307.3 1160.6,1307.3 1161.2,1317.0" fill="#FF3030"/>
<polygon points="1324.2,1317.0 1324.6,1307.3 1330.4,1307.3 1331.1,1317.0" fill="#FF3030"/>
<polygon points="1352.0,1317.0 1353.6,1307.3 1359.0,1307.3 1360.6,1317.0" fill="#FF3030"/>
<polygon points="1875.8,1317.0 1876.5,1307.3 1885.8,1307.3 1888.8,1317.0" fill="#FF3030"/>
<polygon points="1899.0,1317.0 1900.2,1307.3 1905.5,1307.3 1906.0,1317.0" fill="#FF3030"/>
<polygon points="1914.8,1317.0 1915.5,1307.3 1921.7,1307.3 1922.9,1317.0" fill="#FF3030"/>
<polygon points="1992.9,1317.0 1994.8,1307.3 1997.6,1307.3 1999.0,1296.9 2000.6,1296.9 2002.2,1307.3 2004.1,1307.3 2004.8,1317.0" fill="#FF3030"/>
<polygon points="2041.2,1317.0 2043.0,1305.0 2044.6,1296.9 2047.0,1296.9 2049.3,1307.3 2051.1,1307.3 2051.8,1317.0" fill="#FF3030"/>
<polygon points="2063.2,1317.0 2064.3,1307.3 2070.1,1307.3 2070.8,1317.0" fill="#FF3030"/>
<polygon points="2082.4,1317.0 2084.1,1296.9 2085.2,1286.4 2089.4,1286.4 2091.0,1307.3 2093.3,1307.3 2094.5,1296.9 2096.8,1286.4 2099.1,1286.4 2101.4,1276.7 2104.2,1296.9 2105.6,1276.7 2106.6,1266.7 2107.8,1266.7 2108.4,1276.7 2111.2,1244.7 2112.6,1265.6 2113.5,1286.4 2115.4,1286.4 2116.5,1296.9 2117.7,1317.0" fill="#FF3030"/>
<polygon points="2168.2,1317.0 2169.4,1307.3 2171.5,1307.3 2173.3,1296.9 2175.2,1296.9 2176.8,1307.3 2178.0,1307.3 2179.8,1317.0" fill="#FF3030"/>
<polygon points="2273.5,1317.0 2276.5,1307.3 2277.5,1296.9 2278.7,1296.9 2278.8,1317.0" fill="#FF3030"/>
<rect x="704" y="1316.54" width="1650" height="1.0" fill="#111"/>
<polygon points="779.0,1476.9 779.9,1469.7 783.7,1469.7 788.3,1476.9" fill="#FF3030"/>
<polygon points="809.2,1476.9 810.3,1469.7 814.5,1469.7 817.5,1476.9" fill="#FF3030"/>
<polygon points="840.0,1476.9 840.7,1469.7 843.0,1469.7 843.9,1461.6 846.3,1453.4 848.6,1453.4 849.3,1444.9 850.9,1444.9 851.6,1453.4 852.8,1455.3 853.9,1461.6 854.6,1469.7 855.5,1476.9" fill="#FF3030"/>
<polygon points="857.9,1476.9 859.2,1469.7 860.2,1461.6 862.5,1453.4 865.5,1453.4 867.1,1461.6 867.8,1469.7 870.8,1469.7 872.5,1476.9" fill="#FF3030"/>
<polygon points="875.9,1476.9 877.1,1469.7 878.7,1461.6 882.4,1461.6 884.1,1469.7 889.4,1469.7 890.3,1461.6 892.6,1461.6 892.7,1454.1 893.9,1454.1 894.0,1461.6 895.0,1455.3 895.7,1446.0 896.9,1446.0 898.0,1453.0 900.3,1461.6 902.6,1461.6 903.1,1476.9" fill="#FF3030"/>
<polygon points="906.1,1476.9 907.2,1469.7 908.4,1461.6 910.3,1453.4 911.9,1453.4 914.2,1459.9 914.9,1469.7 916.5,1469.7 917.0,1476.9" fill="#FF3030"/>
<polygon points="921.2,1476.9 922.8,1469.7 924.6,1469.7 925.1,1461.6 928.8,1461.6 929.3,1469.7 931.6,1469.7 932.1,1476.9" fill="#FF3030"/>
<polygon points="960.6,1476.9 961.3,1469.7 966.8,1469.7 967.5,1476.9" fill="#FF3030"/>
<polygon points="972.9,1476.9 973.8,1469.7 978.0,1469.7 980.3,1476.9" fill="#FF3030"/>
<polygon points="982.1,1476.9 983.1,1469.7 988.4,1469.7 989.1,1476.9" fill="#FF3030"/>
<polygon points="997.0,1476.9 998.4,1469.7 1003.5,1469.7 1005.3,1476.9" fill="#FF3030"/>
<polygon points="1067.9,1476.9 1069.1,1469.7 1073.5,1469.7 1075.4,1476.9" fill="#FF3030"/>
<polygon points="1084.6,1476.9 1085.8,1469.7 1091.1,1469.7 1092.1,1476.9" fill="#FF3030"/>
<polygon points="1109.7,1476.9 1110.1,1469.7 1116.6,1469.7 1117.1,1476.9" fill="#FF3030"/>
<polygon points="1122.2,1476.9 1123.6,1469.7 1136.8,1469.7 1137.5,1476.9" fill="#FF3030"/>
<polygon points="1143.8,1476.9 1144.5,1461.6 1147.7,1461.6 1148.5,1453.4 1149.7,1453.4 1150.7,1461.6 1151.4,1469.7 1154.2,1469.7 1155.4,1476.9" fill="#FF3030"/>
<polygon points="1199.9,1476.9 1201.7,1469.7 1204.5,1469.7 1205.1,1461.6 1206.3,1461.6 1206.8,1469.7 1211.0,1469.7 1212.2,1476.9" fill="#FF3030"/>
<polygon points="1213.3,1476.9 1215.2,1469.7 1219.8,1469.7 1219.8,1476.9" fill="#FF3030"/>
<polygon points="1220.8,1476.9 1222.1,1469.7 1227.7,1469.7 1228.6,1476.9" fill="#FF3030"/>
<polygon points="1255.1,1476.9 1256.9,1469.7 1258.6,1469.7 1259.6,1461.6 1260.8,1461.6 1262.0,1469.7 1263.9,1469.7 1265.7,1476.9" fill="#FF3030"/>
<polygon points="1277.1,1476.9 1278.3,1469.7 1282.4,1469.7 1282.8,1461.6 1284.0,1461.6 1284.5,1469.7 1288.7,1469.7 1289.9,1476.9" fill="#FF3030"/>
<polygon points="1292.2,1476.9 1292.9,1469.7 1298.4,1469.7 1299.1,1476.9" fill="#FF3030"/>
<polygon points="1308.4,1476.9 1309.1,1469.7 1314.9,1469.7 1316.1,1476.9" fill="#FF3030"/>
<polygon points="1438.7,1476.9 1439.4,1469.7 1443.4,1469.7 1445.7,1476.9" fill="#FF3030"/>
<polygon points="1451.0,1476.9 1451.7,1469.7 1456.3,1469.7 1458.4,1476.9" fill="#FF3030"/>
<polygon points="1476.5,1476.9 1478.1,1469.7 1480.5,1469.7 1481.7,1461.6 1482.9,1461.6 1483.5,1469.7 1488.1,1469.7 1488.8,1476.9" fill="#FF3030"/>
<polygon points="1543.1,1476.9 1544.9,1469.7 1550.7,1469.7 1551.4,1476.9" fill="#FF3030"/>
<polygon points="1551.9,1476.9 1552.6,1469.7 1560.0,1469.7 1560.0,1476.9" fill="#FF3030"/>
<polygon points="1584.3,1476.9 1585.0,1461.6 1586.7,1461.6 1588.3,1444.9 1591.3,1444.9 1592.5,1461.6 1593.6,1461.6 1594.8,1476.9" fill="#FF3030"/>
<polygon points="1644.2,1476.9 1647.0,1461.6 1649.3,1461.6 1652.3,1469.7 1654.6,1476.9" fill="#FF3030"/>
<polygon points="1698.7,1476.9 1699.8,1469.7 1701.9,1469.7 1703.8,1453.4 1708.4,1453.4 1710.3,1469.7 1711.2,1461.6 1713.0,1461.6 1713.5,1469.7 1716.5,1469.7 1717.1,1462.3 1718.3,1462.3 1718.8,1469.7 1723.5,1469.7 1723.9,1476.9" fill="#FF3030"/>
<polygon points="1749.7,1476.9 1751.3,1469.7 1756.6,1469.7 1757.1,1476.9" fill="#FF3030"/>
<polygon points="1757.6,1476.9 1759.0,1469.7 1764.5,1469.7 1765.9,1476.9" fill="#FF3030"/>
<polygon points="1803.9,1476.9 1804.6,1469.7 1809.3,1469.7 1810.4,1476.9" fill="#FF3030"/>
<polygon points="1821.6,1476.9 1822.0,1469.7 1826.7,1469.7 1828.5,1476.9" fill="#FF3030"/>
<polygon points="1943.1,1476.9 1944.5,1469.7 1949.6,1469.7 1951.4,1476.9" fill="#FF3030"/>
<polygon points="1953.7,1476.9 1954.7,1469.7 1960.0,1469.7 1960.0,1476.9" fill="#FF3030"/>
<polygon points="1960.0,1476.9 1960.0,1469.7 1961.9,1469.7 1962.8,1476.9" fill="#FF3030"/>
<polygon points="2005.2,1476.9 2006.4,1469.7 2007.5,1461.6 2011.5,1461.6 2012.9,1469.7 2014.5,1476.9" fill="#FF3030"/>
<polygon points="2041.2,1476.9 2042.3,1469.7 2043.9,1461.6 2048.1,1461.6 2050.4,1453.4 2055.5,1453.4 2056.2,1469.7 2058.6,1476.9" fill="#FF3030"/>
<polygon points="2061.6,1476.9 2063.2,1469.7 2066.7,1469.7 2069.0,1476.9" fill="#FF3030"/>
<polygon points="2088.0,1476.9 2089.4,1469.7 2091.0,1461.6 2095.0,1461.6 2096.3,1469.7 2097.3,1476.9" fill="#FF3030"/>
<polygon points="2101.0,1476.9 2103.3,1469.7 2106.6,1469.7 2107.2,1461.6 2109.6,1461.6 2110.3,1469.7 2113.0,1469.7 2113.5,1476.9" fill="#FF3030"/>
<polygon points="2116.5,1476.9 2117.7,1469.7 2119.5,1453.4 2121.2,1453.4 2122.9,1445.6 2124.1,1445.6 2124.2,1453.4 2125.8,1453.4 2126.5,1469.7 2132.8,1469.7 2132.8,1462.3 2134.0,1462.3 2134.4,1469.7 2139.7,1469.7 2142.7,1476.9" fill="#FF3030"/>
<polygon points="2183.1,1476.9 2184.5,1469.7 2186.8,1469.7 2188.4,1461.6 2190.0,1461.6 2191.4,1453.4 2194.2,1453.4 2195.5,1444.9 2196.7,1444.9 2197.7,1453.4 2198.8,1453.4 2201.2,1469.7 2202.3,1469.7 2202.9,1462.3 2204.1,1462.3 2204.6,1469.7 2205.8,1469.7 2206.3,1453.4 2208.6,1453.4 2211.6,1444.9 2213.2,1457.6 2215.1,1461.6 2216.9,1469.7 2217.9,1476.9" fill="#FF3030"/>
<polygon points="2250.3,1476.9 2251.0,1469.7 2253.3,1469.7 2254.5,1453.4 2256.8,1453.4 2257.5,1457.6 2258.2,1453.4 2259.8,1453.4 2261.4,1469.7 2263.8,1469.7 2264.5,1476.9" fill="#FF3030"/>
<polygon points="2273.0,1476.9 2275.8,1461.6 2278.8,1461.6 2278.8,1476.9" fill="#FF3030"/>
<rect x="704" y="1476.36" width="1650" height="1.0" fill="#111"/>
<polygon points="781.6,1636.7 782.0,1607.7 786.2,1607.7 787.4,1636.7" fill="#B23AEE"/>
<polygon points="792.0,1636.7 793.2,1578.7 799.4,1578.7 799.9,1636.7" fill="#B23AEE"/>
<polygon points="811.0,1636.7 811.7,1607.7 815.7,1607.7 818.7,1636.7" fill="#B23AEE"/>
<polygon points="865.0,1636.7 866.2,1607.7 871.8,1607.7 872.9,1636.7" fill="#B23AEE"/>
<polygon points="875.9,1636.7 877.1,1607.7 882.4,1607.7 885.2,1636.7" fill="#B23AEE"/>
<polygon points="1431.6,1636.7 1435.8,1607.7 1440.9,1607.7 1440.6,1579.9 1441.8,1579.9 1441.6,1607.7 1447.4,1607.7 1450.6,1636.7" fill="#B23AEE"/>
<rect x="704" y="1636.18" width="1650" height="1.0" fill="#111"/>
<polygon points="790.1,1796.5 791.3,1760.6 795.2,1760.6 797.1,1796.5" fill="#B23AEE"/>
<polygon points="886.4,1796.5 888.0,1760.6 889.4,1760.6 890.3,1723.5 893.6,1723.5 894.0,1760.6 895.7,1760.6 896.8,1796.5" fill="#B23AEE"/>
<polygon points="917.7,1796.5 918.4,1760.6 923.5,1760.6 923.7,1723.5 925.1,1723.5 925.3,1760.6 928.8,1760.6 930.4,1796.5" fill="#B23AEE"/>
<polygon points="1246.3,1796.5 1247.0,1760.6 1260.9,1760.6 1262.5,1796.5" fill="#B23AEE"/>
<polygon points="1359.4,1796.5 1360.6,1760.6 1364.5,1760.6 1366.4,1796.5" fill="#B23AEE"/>
<polygon points="1369.2,1796.5 1370.3,1760.6 1376.8,1760.6 1377.3,1796.5" fill="#B23AEE"/>
<polygon points="1484.2,1796.5 1487.0,1723.5 1488.8,1723.5 1490.4,1686.4 1491.1,1686.4 1493.4,1723.5 1493.9,1723.5 1494.6,1759.4 1495.3,1686.4 1496.2,1686.4 1496.7,1723.5 1500.9,1723.5 1501.1,1686.4 1501.6,1686.4 1501.8,1760.6 1506.7,1760.6 1509.0,1796.5" fill="#B23AEE"/>
<polygon points="1790.0,1796.5 1790.7,1760.6 1797.0,1760.6 1798.8,1796.5" fill="#B23AEE"/>
<polygon points="1807.0,1796.5 1810.0,1760.6 1811.6,1760.6 1813.9,1796.5" fill="#B23AEE"/>
<polygon points="1906.0,1796.5 1906.7,1760.6 1908.5,1760.6 1909.2,1723.5 1911.8,1723.5 1912.5,1760.6 1914.3,1760.6 1915.9,1796.5" fill="#B23AEE"/>
<polygon points="2089.2,1796.5 2089.9,1760.6 2095.7,1760.6 2096.1,1796.5" fill="#B23AEE"/>
<polygon points="2096.8,1796.5 2097.3,1760.6 2102.6,1760.6 2104.9,1796.5" fill="#B23AEE"/>
<polygon points="2245.9,1796.5 2247.1,1760.6 2248.2,1760.6 2248.7,1723.5 2252.6,1723.5 2253.3,1760.6 2255.2,1760.6 2256.1,1796.5" fill="#B23AEE"/>
<rect x="704" y="1796.00" width="1650" height="1.0" fill="#111"/>
<rect x="158" y="46" width="4" height="1756.6" fill="#000"/>
<rect x="149" y="196.30" width="9" height="4" fill="#333"/>
<rect x="149" y="144.30" width="9" height="4" fill="#333"/>
<rect x="149" y="92.50" width="9" height="4" fill="#333"/>
<rect x="149" y="356.12" width="9" height="4" fill="#333"/>
<rect x="149" y="304.12" width="9" height="4" fill="#333"/>
<rect x="149" y="252.32" width="9" height="4" fill="#333"/>
<rect x="149" y="515.94" width="9" height="4" fill="#333"/>
<rect x="149" y="463.94" width="9" height="4" fill="#333"/>
<rect x="149" y="412.14" width="9" height="4" fill="#333"/>
<rect x="149" y="675.76" width="9" height="4" fill="#333"/>
<rect x="149" y="623.76" width="9" height="4" fill="#333"/>
<rect x="149" y="571.96" width="9" height="4" fill="#333"/>
<rect x="149" y="835.58" width="9" height="4" fill="#333"/>
<rect x="149" y="783.58" width="9" height="4" fill="#333"/>
<rect x="149" y="731.78" width="9" height="4" fill="#333"/>
<rect x="149" y="995.40" width="9" height="4" fill="#333"/>
<rect x="149" y="943.40" width="9" height="4" fill="#333"/>
<rect x="149" y="891.60" width="9" height="4" fill="#333"/>
<rect x="149" y="1155.22" width="9" height="4" fill="#333"/>
<rect x="149" y="1103.22" width="9" height="4" fill="#333"/>
<rect x="149" y="1051.42" width="9" height="4" fill="#333"/>
<rect x="149" y="1315.04" width="9" height="4" fill="#333"/>
<rect x="149" y="1263.04" width="9" height="4" fill="#333"/>
<rect x="149" y="1211.24" width="9" height="4" fill="#333"/>
<rect x="149" y="1474.86" width="9" height="4" fill="#333"/>
<rect x="149" y="1422.86" width="9" height="4" fill="#333"/>
<rect x="149" y="1371.06" width="9" height="4" fill="#333"/>
<rect x="149" y="1634.68" width="9" height="4" fill="#333"/>
<rect x="149" y="1582.68" width="9" height="4" fill="#333"/>
<rect x="149" y="1530.88" width="9" height="4" fill="#333"/>
<rect x="149" y="1794.50" width="9" height="4" fill="#333"/>
<rect x="149" y="1742.50" width="9" height="4" fill="#333"/>
<rect x="149" y="1690.70" width="9" height="4" fill="#333"/>
<text x="432" y="138.6" font-family='"Liberation Sans", sans-serif' font-size="36.5" fill="#1a1a1a" text-anchor="middle" textLength="344.4" lengthAdjust="spacingAndGlyphs">WT Lef1+ Papillary</text>
<text x="432" y="298.4" font-family='"Liberation Sans", sans-serif' font-size="36.5" fill="#1a1a1a" text-anchor="middle" textLength="364.8" lengthAdjust="spacingAndGlyphs">WT Dpp4+ Papillary</text>
<text x="432" y="458.2" font-family='"Liberation Sans", sans-serif' font-size="36.5" fill="#1a1a1a" text-anchor="middle" textLength="377.0" lengthAdjust="spacingAndGlyphs">cKO Dpp4+ Papillary</text>
<text x="432" y="618.1" font-family='"Liberation Sans", sans-serif' font-size="36.5" fill="#1a1a1a" text-anchor="middle" textLength="360.4" lengthAdjust="spacingAndGlyphs">WT Tagln+ Papillary</text>
<text x="432" y="777.9" font-family='"Liberation Sans", sans-serif' font-size="36.5" fill="#1a1a1a" text-anchor="middle" textLength="372.7" lengthAdjust="spacingAndGlyphs">cKO Tagln+ Papillary</text>
<text x="432" y="937.7" font-family='"Liberation Sans", sans-serif' font-size="36.5" fill="#1a1a1a" text-anchor="middle" textLength="475.3" lengthAdjust="spacingAndGlyphs">WT Inhba+ Dermal Papilla</text>
<text x="432" y="1097.5" font-family='"Liberation Sans", sans-serif' font-size="36.5" fill="#1a1a1a" text-anchor="middle" textLength="488.8" lengthAdjust="spacingAndGlyphs">cKO Inhba+ Dermal Papilla</text>
<text x="432" y="1257.3" font-family='"Liberation Sans", sans-serif' font-size="36.5" fill="#1a1a1a" text-anchor="middle" textLength="356.4" lengthAdjust="spacingAndGlyphs">WT Dlk1+ Reticular</text>
<text x="432" y="1417.2" font-family='"Liberation Sans", sans-serif' font-size="36.5" fill="#1a1a1a" text-anchor="middle" textLength="367.8" lengthAdjust="spacingAndGlyphs">cKO Dlk1+ Reticular</text>
<text x="432" y="1577.0" font-family='"Liberation Sans", sans-serif' font-size="36.5" fill="#1a1a1a" text-anchor="middle" textLength="491.6" lengthAdjust="spacingAndGlyphs">WT Fabp4+ Pre-Adipocytes</text>
<text x="432" y="1736.8" font-family='"Liberation Sans", sans-serif' font-size="36.5" fill="#1a1a1a" text-anchor="middle" textLength="504.6" lengthAdjust="spacingAndGlyphs">cKO Fabp4+ Pre-Adipocytes</text>
<text x="0" y="0" transform="translate(79,931) rotate(-90)" font-family='"Liberation Sans", sans-serif' font-size="46" fill="#000" text-anchor="middle" textLength="409.2" lengthAdjust="spacingAndGlyphs">Normalized signal</text>
<text x="0" y="0" transform="translate(127.4,925) rotate(-90)" font-family='"Liberation Sans", sans-serif' font-size="46" fill="#000" text-anchor="middle" textLength="332.2" lengthAdjust="spacingAndGlyphs">(range 0 - 5.6)</text>
<text x="0" y="0" transform="translate(79,1947.3) rotate(-90)" font-family='"Liberation Sans", sans-serif' font-size="46" fill="#000" text-anchor="middle" textLength="131.1" lengthAdjust="spacingAndGlyphs">Peaks</text>
<text x="0" y="0" transform="translate(79,2235.5) rotate(-90)" font-family='"Liberation Sans", sans-serif' font-size="46" fill="#000" text-anchor="middle" textLength="203.1" lengthAdjust="spacingAndGlyphs">WT Links</text>
<text x="0" y="0" transform="translate(79,2490.8) rotate(-90)" font-family='"Liberation Sans", sans-serif' font-size="46" fill="#000" text-anchor="middle" textLength="196.6" lengthAdjust="spacingAndGlyphs">KO Links</text>
<text x="0" y="0" transform="translate(79,2747) rotate(-90)" font-family='"Liberation Sans", sans-serif' font-size="46" fill="#000" text-anchor="middle" textLength="146.9" lengthAdjust="spacingAndGlyphs">Genes</text>
<rect x="704" y="2034.0" width="1650" height="4.4" fill="#000"/>
<rect x="956.3" y="2038.2" width="4" height="9.4" fill="#333"/>
<text x="958.3" y="2083.3" font-family='"Liberation Sans", sans-serif' font-size="36.5" fill="#4d4d4d" text-anchor="middle" textLength="183.5" lengthAdjust="spacingAndGlyphs">56025000</text>
<rect x="1313.0" y="2038.2" width="4" height="9.4" fill="#333"/>
<text x="1315.0" y="2083.3" font-family='"Liberation Sans", sans-serif' font-size="36.5" fill="#4d4d4d" text-anchor="middle" textLength="183.5" lengthAdjust="spacingAndGlyphs">56030000</text>
<rect x="1669.7" y="2038.2" width="4" height="9.4" fill="#333"/>
<text x="1671.7" y="2083.3" font-family='"Liberation Sans", sans-serif' font-size="36.5" fill="#4d4d4d" text-anchor="middle" textLength="183.5" lengthAdjust="spacingAndGlyphs">56035000</text>
<rect x="2026.4" y="2038.2" width="4" height="9.4" fill="#333"/>
<text x="2028.4" y="2083.3" font-family='"Liberation Sans", sans-serif' font-size="36.5" fill="#4d4d4d" text-anchor="middle" textLength="183.5" lengthAdjust="spacingAndGlyphs">56040000</text>
<rect x="704" y="2845.2" width="1650" height="4.4" fill="#000"/>
<rect x="956.3" y="2849.4" width="4" height="9.4" fill="#333"/>
<text x="958.3" y="2894.2" font-family='"Liberation Sans", sans-serif' font-size="36.5" fill="#4d4d4d" text-anchor="middle" textLength="183.5" lengthAdjust="spacingAndGlyphs">56025000</text>
<rect x="1313.0" y="2849.4" width="4" height="9.4" fill="#333"/>
<text x="1315.0" y="2894.2" font-family='"Liberation Sans", sans-serif' font-size="36.5" fill="#4d4d4d" text-anchor="middle" textLength="183.5" lengthAdjust="spacingAndGlyphs">56030000</text>
<rect x="1669.7" y="2849.4" width="4" height="9.4" fill="#333"/>
<text x="1671.7" y="2894.2" font-family='"Liberation Sans", sans-serif' font-size="36.5" fill="#4d4d4d" text-anchor="middle" textLength="183.5" lengthAdjust="spacingAndGlyphs">56035000</text>
<rect x="2026.4" y="2849.4" width="4" height="9.4" fill="#333"/>
<text x="2028.4" y="2894.2" font-family='"Liberation Sans", sans-serif' font-size="36.5" fill="#4d4d4d" text-anchor="middle" textLength="183.5" lengthAdjust="spacingAndGlyphs">56040000</text>
<text x="1528.5" y="2945.4" font-family='"Liberation Sans", sans-serif' font-size="46" fill="#000" text-anchor="middle" textLength="434.8" lengthAdjust="spacingAndGlyphs">chr11 position (bp)</text>
<rect x="158" y="2647.7" width="4" height="200.3" fill="#000"/>
<rect x="955" y="2799.8" width="1146" height="4.4" fill="#00008B"/>
<circle cx="956" cy="2802" r="2.5" fill="#00008B"/>
<rect x="956.9" y="2788.5" width="161.7" height="27.2" fill="#00008B"/>
<rect x="1280.2" y="2788.5" width="8.3" height="27.2" fill="#00008B"/>
<rect x="1525.2" y="2788.5" width="5.4" height="27.2" fill="#00008B"/>
<rect x="2041.9" y="2788.5" width="58.8" height="27.2" fill="#00008B"/>
<path d="M1146.1,2792.6 L1136.6,2802 L1146.1,2811.4 M1176.1,2792.6 L1166.6,2802 L1176.1,2811.4 M1206.1,2792.6 L1196.6,2802 L1206.1,2811.4 M1236.1,2792.6 L1226.6,2802 L1236.1,2811.4 M1266.1,2792.6 L1256.6,2802 L1266.1,2811.4 M1296.1,2792.6 L1286.6,2802 L1296.1,2811.4 M1326.1,2792.6 L1316.6,2802 L1326.1,2811.4 M1356.1,2792.6 L1346.6,2802 L1356.1,2811.4 M1386.1,2792.6 L1376.6,2802 L1386.1,2811.4 M1416.2,2792.6 L1406.7,2802 L1416.2,2811.4 M1446.2,2792.6 L1436.7,2802 L1446.2,2811.4 M1476.2,2792.6 L1466.7,2802 L1476.2,2811.4 M1506.2,2792.6 L1496.7,2802 L1506.2,2811.4 M1536.2,2792.6 L1526.7,2802 L1536.2,2811.4 M1566.2,2792.6 L1556.7,2802 L1566.2,2811.4 M1596.2,2792.6 L1586.7,2802 L1596.2,2811.4 M1626.2,2792.6 L1616.7,2802 L1626.2,2811.4 M1656.2,2792.6 L1646.7,2802 L1656.2,2811.4 M1686.2,2792.6 L1676.7,2802 L1686.2,2811.4 M1716.2,2792.6 L1706.7,2802 L1716.2,2811.4 M1746.2,2792.6 L1736.7,2802 L1746.2,2811.4 M1776.2,2792.6 L1766.7,2802 L1776.2,2811.4 M1806.2,2792.6 L1796.7,2802 L1806.2,2811.4 M1836.2,2792.6 L1826.7,2802 L1836.2,2811.4 M1866.2,2792.6 L1856.7,2802 L1866.2,2811.4 M1896.2,2792.6 L1886.8,2802 L1896.2,2811.4 M1926.3,2792.6 L1916.8,2802 L1926.3,2811.4 M1956.3,2792.6 L1946.8,2802 L1956.3,2811.4 M1986.3,2792.6 L1976.8,2802 L1986.3,2811.4 M2016.3,2792.6 L2006.8,2802 L2016.3,2811.4 M2046.3,2792.6 L2036.8,2802 L2046.3,2811.4 M2076.3,2792.6 L2066.8,2802 L2076.3,2811.4 M2106.3,2792.6 L2096.8,2802 L2106.3,2811.4" stroke="#00008B" stroke-width="4" fill="none" stroke-linecap="butt" stroke-linejoin="miter"/>
<text x="1528.8" y="2740.3" font-family='"Liberation Sans", sans-serif' font-size="29.5" fill="#000" text-anchor="middle" textLength="99.7" lengthAdjust="spacingAndGlyphs">Nmur2</text>
</svg></body></html>
